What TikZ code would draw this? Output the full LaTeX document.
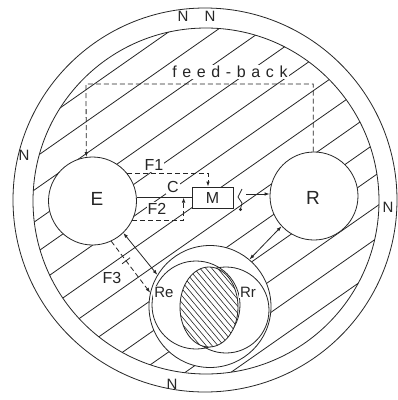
\documentclass[tikz,border=0pt]{standalone}
\usepackage{fontspec}
\setmainfont{Liberation Sans}
\usetikzlibrary{arrows.meta,calc}
\begin{document}
\begin{tikzpicture}[x=1pt,y=-1pt,
  ln/.style={draw=black!85, line width=0.8pt},
  dsh/.style={ln, dash pattern=on 5pt off 3pt},
  tip/.style={-{Latex[length=5pt,width=3.5pt]}},
  dtip/.style={{Latex[length=5pt,width=3.5pt]}-{Latex[length=5pt,width=3.5pt]}},
  ball/.style={ln, circle, fill=white, inner sep=0pt},
  lbl/.style={font=\fontsize{15}{15}\selectfont, inner sep=1pt, text=black!85},
  flbl/.style={lbl, fill=white, font=\fontsize{16}{16}\selectfont},
  big/.style={lbl, font=\fontsize{19}{19}\selectfont}
]
\fill[white] (0,0) rectangle (398,400);
\useasboundingbox (0,0) rectangle (398,400);

% outer ring
\draw[ln] (205,200) circle[radius=192pt];
\draw[ln] (206,201) circle[radius=173pt];

% hatching of the inner disc
\begin{scope}
  \clip (206,201) circle[radius=173pt];
  \foreach \c in {150,182,...,534} \draw[ln] (0,\c) -- (420,\c-294);
\end{scope}

% main circles and box
\node[ball, minimum size=88pt] (E) at (92.5,201) {};
\node[ball, minimum size=88pt] (R) at (314,196) {};
\node[ball, minimum size=122pt] (B) at (210,306.5) {};
\node[ln, rectangle, fill=white, minimum width=41pt, minimum height=21pt, inner sep=0pt,
      font=\fontsize{16}{16}\selectfont, text=black!85] (M) at (212.5,197.5) {M};

% Re, Rr circles and hatched ellipse
\node[ln, circle, minimum size=88pt, inner sep=0pt] (Re) at (196,305) {};
\node[ln, circle, minimum size=86pt, inner sep=0pt] (Rr) at (226,310) {};
\fill[white] (209,307) ellipse[x radius=29pt, y radius=40pt];
\begin{scope}[shift={(209,307)}]
  \clip (0,0) ellipse[x radius=29pt, y radius=40pt];
  \foreach \k in {-14,...,14}
    \draw[ln, line width=0.6pt] ({\k*4.5*0.766-60*0.643},{-\k*4.5*0.643-60*0.766})
      -- ({\k*4.5*0.766+60*0.643},{-\k*4.5*0.643+60*0.766});
\end{scope}
\draw[ln] (209,307) ellipse[x radius=29pt, y radius=40pt];

% feed-back loop
\coordinate (fbL) at (86,84);
\draw[dsh, tip] (R.91) |- (fbL) -- (E.98);

% F1, C, F2
\draw[dsh, tip] (E.39) -| ($(M.north)+(-4.5,0)$);
\draw[ln] (M.west) -- (M.west -| E.east);
\draw[dsh, tip] (E.-26) -| ($(M.west)+(-8,0)$);

% squiggle and arrow to R
\draw[ln] (242,189) -- (238,197) -- (242,203) -- (240.5,209);
\fill[black!85] (240.5,209.5) circle[radius=1.6pt];
\coordinate (sq) at (246,194);
\draw[ln, tip] (sq) -- (sq -| R.west);

% links to the resources circle
\draw[ln, dtip] (E.-46) -- (B.149);
\draw[ln, dtip] (B.50) -- (R.223);
\draw[dsh, tip] (E.-65) -- (B.167);
\path (E.-65) -- coordinate[pos=0.38] (tk) (B.167);
\draw[ln] ($(tk)!5pt!90:(B.167)$) -- ($(tk)!5pt!-90:(B.167)$);

% labels
\node[big] at (97,199) {E};
\node[big] at (313,198) {R};
\node[flbl] at (154,165) {F1};
\node[flbl] at (173,187) {C};
\node[flbl] at (157,209) {F2};
\node[flbl] at (112,278) {F3};
\node[lbl, fill=white] at (164,292) {Re};
\node[lbl, fill=white] at (248,292) {Rr};
\node[lbl, fill=white, font=\fontsize{16}{16}\selectfont\addfontfeature{LetterSpace=35}] at (230,72) {feed-back};
\node[lbl] at (183,16) {N};
\node[lbl] at (210,16) {N};
\node[lbl] at (24,155) {N};
\node[lbl] at (388,207) {N};
\node[lbl] at (172,384) {N};
\end{tikzpicture}
\end{document}
